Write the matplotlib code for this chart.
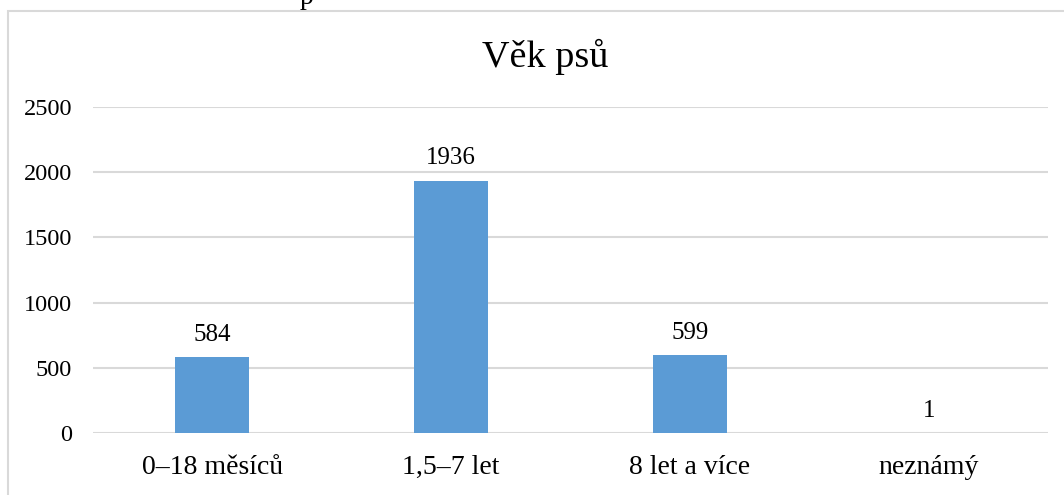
import matplotlib
matplotlib.use("Agg")
import matplotlib.pyplot as plt
from matplotlib.patches import Rectangle

categories = ["0–18 měsíců", "1,5–7 let", "8 let a více", "neznámý"]
values = [584, 1936, 599, 1]
yticks = [0, 500, 1000, 1500, 2000, 2500]

plt.rcParams['font.family'] = ['Liberation Serif', 'DejaVu Serif']

W, H = 1064, 495
fig = plt.figure(figsize=(W / 100, H / 100), dpi=100)
fig.patch.set_facecolor("white")

# outer chart border (extends beyond the image on right and bottom)
fig.patches.append(Rectangle((8 / W, -0.1), 1.2, (H - 11) / H + 0.1,
                             transform=fig.transFigure, fill=False,
                             edgecolor="#d9d9d9", linewidth=1.5))
# fragment of document text above the chart
fig.text(300 / W, 1.0 - 4 / H, "p", fontsize=20, ha="left", va="baseline",
         color="black")

ax = fig.add_axes([93 / W, (H - 433) / H, (1048 - 93) / W, (433 - 107) / H])
x = range(len(categories))
bars = ax.bar(x, values, width=0.31, color="#5b9bd5", zorder=3)
ax.set_xlim(-0.5, len(categories) - 0.5)
ax.set_ylim(0, 2500)
ax.set_yticks(yticks)
ax.set_yticklabels([str(t) for t in yticks], fontsize=17.5)
ax.set_xticks(list(x))
ax.set_xticklabels(categories, fontsize=20)
ax.tick_params(axis="both", length=0)
ax.tick_params(axis="y", pad=15)
ax.tick_params(axis="x", pad=16)
ax.grid(axis="y", color="#d9d9d9", linewidth=1.5, zorder=0)
for s in ax.spines.values():
    s.set_visible(False)
for b, v in zip(bars, values):
    ax.annotate(str(v), (b.get_x() + b.get_width() / 2, v),
                xytext=(0, 8), textcoords="offset points",
                ha="center", va="bottom", fontsize=18)

fig.text(545 / W, (H - 57) / H, "Věk psů", fontsize=27.5, ha="center",
         va="center")

fig.savefig("out.png", dpi=100)
